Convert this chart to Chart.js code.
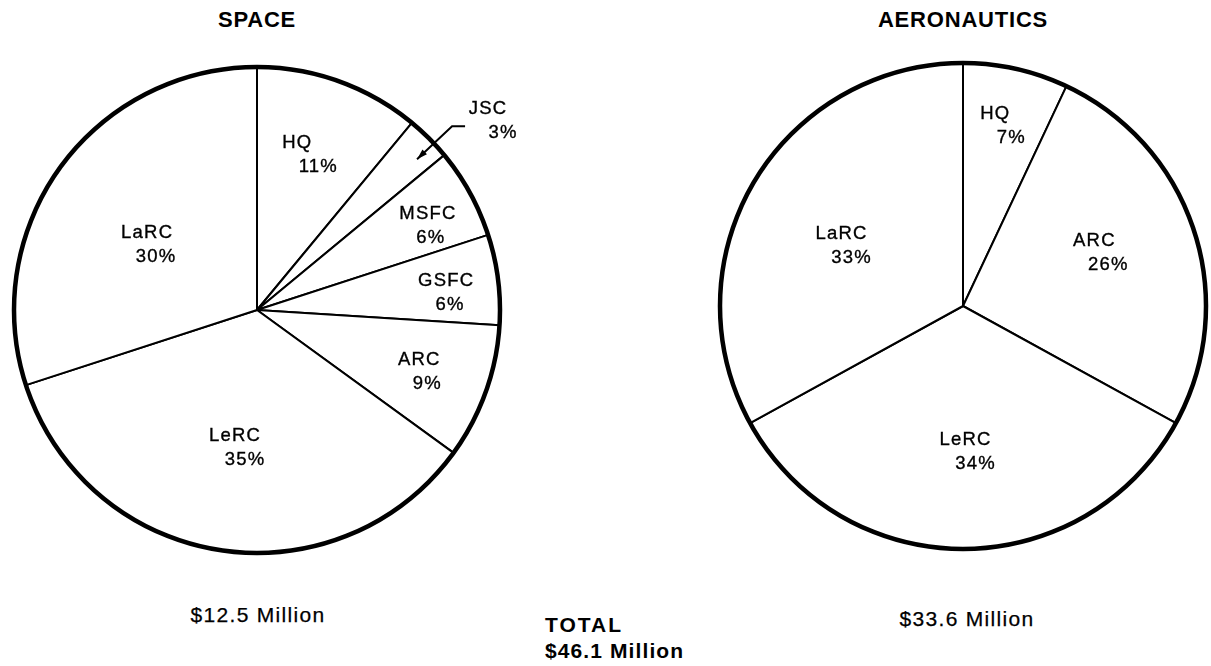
<!DOCTYPE html>
<html>
<head>
<meta charset="utf-8">
<script src="https://cdn.jsdelivr.net/npm/chart.js@4"></script>
<style>
  body { margin: 0; width: 1211px; height: 666px; background: #fff; position: relative; overflow: hidden;
         font-family: "Liberation Sans", Arial, sans-serif; color: #000; }
  .box { position: absolute; height: 500px; }
  .txt { position: absolute; line-height: 1; white-space: nowrap; }
  .title { font-size: 22px; font-weight: bold; letter-spacing: 0.8px; transform: translateX(-50%); }
  .money { font-size: 21px; letter-spacing: 1.3px; -webkit-text-stroke: 0.25px #000; transform: translateX(-50%); }
  .total { font-size: 21px; font-weight: bold; letter-spacing: 1.1px; }
</style>
</head>
<body>
<div class="txt title" style="left:257px; top:9px;">SPACE</div>
<div class="txt title" style="left:963px; top:9px;">AERONAUTICS</div>

<div class="box" style="left:-43px; top:60px; width:600px;"><canvas id="space"></canvas></div>
<div class="box" style="left:713px; top:56px; width:500px;"><canvas id="aero"></canvas></div>

<div class="txt money" style="left:258px; top:604px;">$12.5 Million</div>
<div class="txt money" style="left:967px; top:608px;">$33.6 Million</div>
<div class="txt total" style="left:545px; top:614px; letter-spacing:2px;">TOTAL</div>
<div class="txt total" style="left:545px; top:640px;">$46.1 Million</div>

<script>
// space budget split, clockwise from 12 o'clock
const spaceCenters = ["HQ", "JSC", "MSFC", "GSFC", "ARC", "LeRC", "LaRC"]
const spaceShares = [11, 3, 6, 6, 9, 35, 30]

// aeronautics budget split
const aeroCenters = ["HQ", "ARC", "LeRC", "LaRC"]
const aeroShares = [7, 26, 34, 33]

// label placement: radial fraction, angle tweak (deg), shift of 2nd line vs 1st
const spacePlace = [
  { f: 0.67, da: -1.6, shift: 21 },
  { outside: true, da: 1.7 },
  { f: 0.79, da: 2.7, shift: 3 },
  { f: 0.79, da: 2.0, shift: 4 },
  { f: 0.73, da: 0.6, shift: 8 },
  { f: 0.57, da: -2.0, shift: 10 },
  { f: 0.51, da: -4.2, shift: 9 }
]
const aeroPlace = [
  { f: 0.76, da: 0, shift: 16 },
  { f: 0.61, da: -3, shift: 14 },
  { f: 0.60, da: -3, shift: 10 },
  { f: 0.54, da: -3.2, shift: 10 }
]

const FONT = '18.5px "Liberation Sans", Arial, sans-serif'

// draws the heavy rim, the slice labels and the JSC leader arrow
const pieLabels = {
  id: "pieLabels",
  afterDatasetsDraw(chart, args, opts) {
    const ctx = chart.ctx
    const meta = chart.getDatasetMeta(0)
    const values = chart.data.datasets[0].data
    const first = meta.data[0]

    ctx.save()
    ctx.beginPath()
    ctx.arc(first.x, first.y, first.outerRadius, 0, Math.PI * 2)
    ctx.lineWidth = 4.5
    ctx.strokeStyle = "#000"
    ctx.stroke()

    ctx.font = FONT
    if ("letterSpacing" in ctx) ctx.letterSpacing = "1.2px"
    ctx.fillStyle = "#000"
    ctx.textAlign = "center"
    ctx.textBaseline = "middle"

    const say = (s, x, y) => {
      ctx.lineWidth = 0.35
      ctx.fillText(s, x, y)
      ctx.strokeText(s, x, y)
    }

    meta.data.forEach((arc, i) => {
      const p = opts.place[i]
      const r = arc.outerRadius
      const ang = (arc.startAngle + arc.endAngle) / 2 + p.da * Math.PI / 180
      const name = chart.data.labels[i]
      const pct = values[i] + "%"

      if (p.outside) {
        const tip = { x: arc.x + Math.cos(ang) * r * 0.905, y: arc.y + Math.sin(ang) * r * 0.905 }
        const elbow = { x: arc.x + Math.cos(ang) * r * 1.103, y: arc.y + Math.sin(ang) * r * 1.103 }
        ctx.beginPath()
        ctx.moveTo(elbow.x + 13, elbow.y)
        ctx.lineTo(elbow.x, elbow.y)
        ctx.lineTo(tip.x, tip.y)
        ctx.lineWidth = 2
        ctx.stroke()
        const dir = Math.atan2(tip.y - elbow.y, tip.x - elbow.x)
        ctx.beginPath()
        ctx.moveTo(tip.x, tip.y)
        ctx.lineTo(tip.x - Math.cos(dir - 0.3) * 11, tip.y - Math.sin(dir - 0.3) * 11)
        ctx.lineTo(tip.x - Math.cos(dir + 0.3) * 11, tip.y - Math.sin(dir + 0.3) * 11)
        ctx.closePath()
        ctx.fill()
        say(name, elbow.x + 36, elbow.y - 17)
        say(pct, elbow.x + 51, elbow.y + 7)
        return
      }

      const cx = arc.x + Math.cos(ang) * r * p.f
      const cy = arc.y + Math.sin(ang) * r * p.f
      say(name, cx - p.shift / 2, cy - 12)
      say(pct, cx + p.shift / 2, cy + 12)
    })
    ctx.restore()
  }
}

function makePie(id, labels, values, place) {
  return new Chart(document.getElementById(id), {
    type: "pie",
    data: {
      labels: labels,
      datasets: [{
        data: values,
        backgroundColor: "#fff",
        borderColor: "#000",
        borderWidth: 2,
        hoverOffset: 0
      }]
    },
    options: {
      responsive: true,
      maintainAspectRatio: false,
      animation: false,
      events: [],
      radius: 243,
      layout: { padding: 0 },
      plugins: {
        legend: { display: false },
        tooltip: { enabled: false },
        pieLabels: { place: place }
      }
    },
    plugins: [pieLabels]
  })
}

makePie("space", spaceCenters, spaceShares, spacePlace)
makePie("aero", aeroCenters, aeroShares, aeroPlace)
</script>
</body>
</html>
